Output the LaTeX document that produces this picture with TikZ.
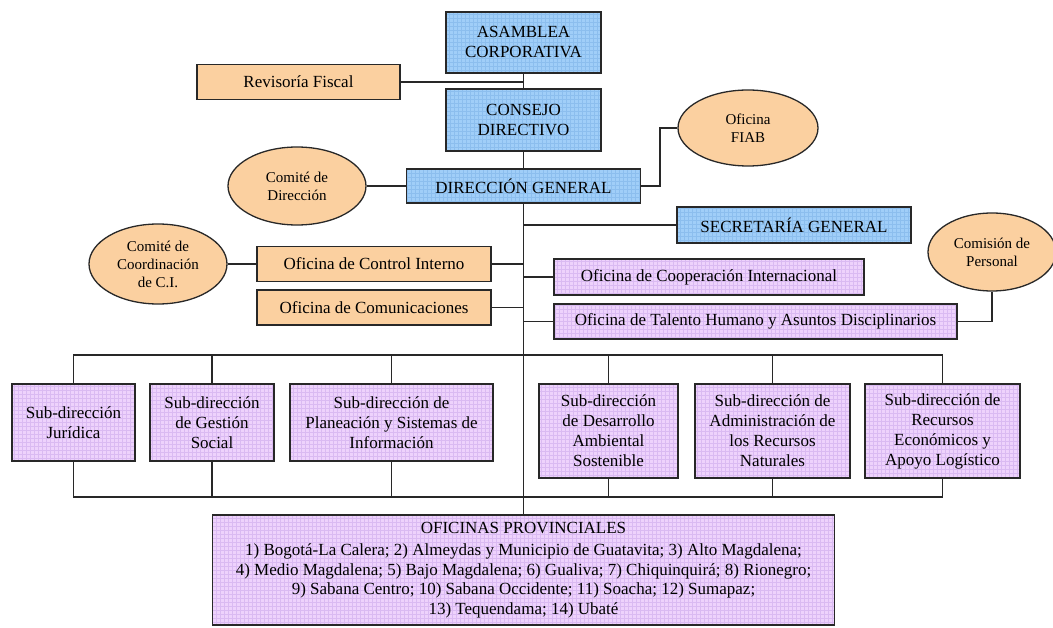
\documentclass[tikz,border=0pt]{standalone}
\usepackage{fontspec}
\setmainfont{Liberation Serif}
\usetikzlibrary{calc,shapes.geometric}

\definecolor{bluefill}{RGB}{160,206,248}
\definecolor{bluegrid}{RGB}{140,190,238}
\definecolor{lilacfill}{RGB}{238,210,252}
\definecolor{lilacgrid}{RGB}{218,186,242}
\definecolor{peach}{RGB}{251,208,160}
\definecolor{edge}{RGB}{40,40,40}

\tikzset{
  wh/.style 2 args={minimum width=#1pt, minimum height=#2pt},
  unitbox/.style={draw=edge, line width=1.3pt, inner sep=0pt, align=center,
    font=\fontsize{17}{20}\selectfont},
  gridded/.style={path picture={\draw[#1, line width=0.35pt]
    (path picture bounding box.south west) grid[step=4pt] (path picture bounding box.north east);}},
  bluebox/.style={unitbox, fill=bluefill, gridded=bluegrid},
  lilacbox/.style={unitbox, fill=lilacfill, gridded=lilacgrid},
  peachbox/.style={unitbox, fill=peach},
  council/.style={ellipse, draw=edge, line width=1.3pt, fill=peach, inner sep=0pt,
    align=center, font=\fontsize{15}{18}\selectfont},
  link/.style={draw=edge, line width=1.2pt},
}

\begin{document}
\begin{tikzpicture}[x=1pt, y=-1pt]
  \fill[white] (0,0) rectangle (1053,628);
  \useasboundingbox (0,0) rectangle (1053,628);

  % governing bodies along the trunk
  \node[bluebox, wh={155}{61}] (asam) at (523.5,42.5) {ASAMBLEA\\CORPORATIVA};
  \node[peachbox, wh={203}{35}] (revis) at (298.5,82) {Revisoría Fiscal};
  \node[bluebox, wh={155}{62}] (consejo) at (523.5,120) {CONSEJO\\DIRECTIVO};
  \node[bluebox, wh={234}{34}] (direccion) at (523.5,186) {DIRECCIÓN GENERAL};

  % committees and offices around the general direction
  \node[council, wh={138}{78}] (comdir) at (297,186) {Comité de\\Dirección};
  \node[council, wh={140}{76}] (fiab) at (748,128) {Oficina\\FIAB};
  \node[bluebox, wh={234}{36}] (secre) at (794,225) {SECRETARÍA GENERAL};
  \node[peachbox, wh={234}{35}] (ctrl) at (374,264) {Oficina de Control Interno};
  \node[council, wh={138}{80}] (comci) at (158,264) {Comité de\\Coordinación\\de C.I.};
  \node[peachbox, wh={234}{35}] (comu) at (374,307.5) {Oficina de Comunicaciones};
  \node[lilacbox, wh={310}{36}] (coop) at (709,277) {Oficina de Cooperación Internacional};
  \node[lilacbox, wh={403}{35}] (talento) at (755.5,321.5) {Oficina de Talento Humano y Asuntos Disciplinarios};
  \node[council, wh={128}{78}] (comision) at (992,252) {Comisión de\\Personal};

  % sub-directorates
  \node[lilacbox, wh={123}{77}] (jur) at (73.5,422.5) {Sub-dirección\\Jurídica};
  \node[lilacbox, wh={124}{77}] (gest) at (212,422.5) {Sub-dirección\\de Gestión\\Social};
  \node[lilacbox, wh={203}{77}] (plan) at (391.5,422.5) {Sub-dirección de\\Planeación y Sistemas de\\Información};
  \node[lilacbox, wh={139}{94}] (desa) at (608.5,431) {Sub-dirección\\de Desarrollo\\Ambiental\\Sostenible};
  \node[lilacbox, wh={155}{94}] (admin) at (772.5,431) {Sub-dirección de\\Administración de\\los Recursos\\Naturales};
  \node[lilacbox, wh={155}{94}] (recur) at (942.5,431) {Sub-dirección de\\Recursos\\Económicos y\\Apoyo Logístico};

  % provincial offices
  \node[lilacbox, wh={622}{110}, font=\fontsize{17}{19.5}\selectfont] (ofic) at (523.5,570)
    {OFICINAS PROVINCIALES\\[3pt]
     1) Bogotá-La Calera; 2) Almeydas y Municipio de Guatavita; 3) Alto Magdalena;\\
     4) Medio Magdalena; 5) Bajo Magdalena; 6) Gualiva; 7) Chiquinquirá; 8) Rionegro;\\
     9) Sabana Centro; 10) Sabana Occidente; 11) Soacha; 12) Sumapaz;\\
     13) Tequendama; 14) Ubaté};

  % bus junctions on the trunk
  \coordinate (bus) at (523.5,355);
  \coordinate (bot) at (523.5,497);
  \coordinate (fiabturn) at (660,186);

  % trunk
  \draw[link] (asam.south) -- (consejo.north);
  \draw[link] (consejo.south) -- (direccion.north);
  \draw[link] (direccion.south) -- (ofic.north);
  \draw[link] (revis.east) -- (revis.east -| asam.south);

  % side links
  \draw[link] (comdir.east) -- (direccion.west);
  \draw[link] (direccion.east) -- (fiabturn) |- (fiab.west);
  \draw[link] (secre.west) -- (secre.west -| direccion.south);
  \draw[link] (ctrl.east) -- (ctrl.east -| direccion.south);
  \draw[link] (comci.east) -- (ctrl.west);
  \draw[link] (comu.east) -- (comu.east -| direccion.south);
  \draw[link] (coop.west) -- (coop.west -| direccion.south);
  \draw[link] (talento.west) -- (talento.west -| direccion.south);
  \draw[link] (talento.east) -| (comision.south);

  % upper bus to the sub-directorates
  \draw[link] (jur.north) |- (bus) -| (recur.north);
  \foreach \n in {gest,plan,desa,admin}
    \draw[link] (\n.north) -- (\n.north |- bus);

  % lower bus towards the provincial offices
  \draw[link] (jur.south) |- (bot) -| (recur.south);
  \foreach \n in {gest,plan,desa,admin}
    \draw[link] (\n.south) -- (\n.south |- bot);
\end{tikzpicture}
\end{document}
